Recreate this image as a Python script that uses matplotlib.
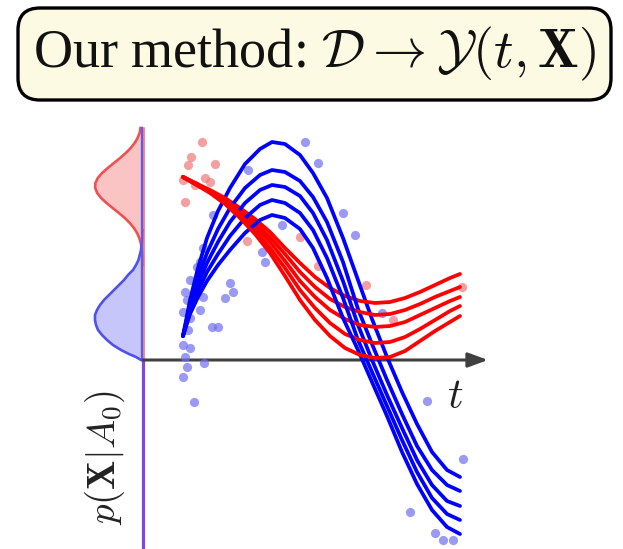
import matplotlib
matplotlib.use("Agg")
import matplotlib.pyplot as plt
from matplotlib.patches import FancyBboxPatch

plt.rcParams["font.family"] = ["Liberation Serif", "DejaVu Serif"]
plt.rcParams["mathtext.fontset"] = "cm"

# ------------------------------------------------------------
# DATA (t right of the origin, y above the t-axis)
# ------------------------------------------------------------
t_blue = [38, 45, 53, 62, 73, 85, 100, 115, 127, 140, 155, 168, 182, 198, 213,
          227, 242, 257, 272, 287, 302, 315]
blue_curves = [
    [24, 60, 92, 122, 149, 172, 196, 211, 218, 216, 205, 187, 162, 122, 80, 41, 3, -32, -64, -92, -110, -117],
    [24, 55, 83, 107, 131, 152, 172, 185, 190, 188, 179, 163, 138, 98, 51, 16, -20, -54, -86, -110, -125, -131],
    [24, 52, 76, 97, 118, 138, 157, 170, 175, 173, 164, 147, 120, 79, 35, 0, -35, -68, -100, -125, -141, -146],
    [24, 49, 69, 88, 106, 124, 142, 155, 160, 157, 147, 130, 102, 62, 20, -12, -46, -80, -112, -138, -154, -160],
    [24, 46, 63, 79, 95, 110, 127, 140, 145, 142, 131, 112, 82, 42, 10, -22, -56, -92, -124, -150, -167, -174],
]

t_red = [38, 50, 65, 80, 95, 110, 125, 140, 155, 170, 185, 200, 215, 230, 245,
         260, 275, 290, 305, 315]
red_curves = [
    [183, 177, 170, 162, 152, 141, 128, 112, 97, 83, 72, 64, 59, 57, 58, 62, 68, 75, 82, 86],
    [183, 177, 169, 160, 150, 137, 123, 106, 88, 73, 61, 53, 48, 45, 46, 50, 56, 63, 69, 73],
    [183, 177, 168, 159, 147, 134, 118, 99, 79, 63, 50, 41, 35, 33, 34, 38, 45, 52, 59, 63],
    [183, 176, 168, 157, 145, 130, 112, 92, 70, 52, 37, 26, 20, 17, 18, 23, 31, 40, 49, 54],
    [183, 176, 167, 156, 142, 126, 107, 84, 60, 40, 24, 12, 5, 2, 3, 9, 19, 29, 38, 44],
]

red_pts_t = [57, 46, 43, 70, 60, 38, 50, 40, 102, 155, 173, 221, 248, 317, 65]
red_pts_y = [218, 203, 195, 196, 182, 180, 175, 158, 119, 123, 94, 75, 40, 73, 178]

blue_pts_t = [58, 52, 45, 40, 42, 38, 45, 55, 58, 85, 88, 80, 67, 73, 43, 38, 45, 40,
              42, 38, 59, 49, 117, 120, 103, 68, 160, 173, 198, 210, 137, 237, 282,
              318, 265, 290, 298, 308, 55]
blue_pts_y = [112, 93, 80, 68, 60, 48, 42, 50, 63, 77, 68, 62, 33, 33, 30, 15, 12, 3,
              -7, -17, -3, -42, 108, 98, 190, 145, 218, 197, 147, 125, 135, 47, -41,
              -99, -152, -173, -180, -180, 98]

# marginal densities p(X|A0), drawn to the left of the axis
red_dens_y = [232, 227, 222, 217, 212, 207, 202, 197, 192, 187, 182, 177, 172, 167,
              162, 157, 152, 147, 142, 137, 132, 127, 122, 117, 112, 105, 95]
red_dens_w = [2.5, 3.4, 5.4, 8.4, 12.3, 17.2, 22.9, 29.1, 35.3, 40.9, 45.2, 47.6, 47.8,
              45.8, 41.9, 36.5, 30.4, 24.1, 18.2, 13.2, 9.1, 5.9, 3.7, 2.2, 1.3, 0.5, 0.1]
blue_dens_y = [130, 120, 110, 100, 95, 90, 85, 80, 75, 70, 65, 60, 55, 50, 45, 40, 35,
               30, 25, 20, 15, 10, 6, 3, 0]
blue_dens_w = [0.3, 0.8, 2, 4.5, 7, 10, 15, 19, 24, 29, 34, 39, 43, 46, 48, 48, 47,
               45, 41, 36, 30, 22, 14, 7, 2]

TITLE = r"Our method: $\mathcal{D} \rightarrow \mathcal{Y}(t, \mathbf{X})$"
YLABEL = r"$p(\mathbf{X}|A_0)$"

# ------------------------------------------------------------
# FIGURE
# ------------------------------------------------------------
fig = plt.figure(figsize=(6.23, 5.49), dpi=100)
ax = fig.add_axes([0, 0, 1, 1])
ax.set_xlim(-145, 478)
ax.set_ylim(-189, 360)
ax.axis("off")

BLUE, RED = "#0000ff", "#ff0000"
x0 = -2  # position of the vertical density axis

# title box
box = FancyBboxPatch((-127, 260), 593, 92, boxstyle="round,pad=0,rounding_size=22",
                     fc="#fdfae3", ec="black", lw=2.4, zorder=1)
ax.add_patch(box)
ax.text(170, 306, TITLE, ha="center", va="center", fontsize=39, color="#111111", zorder=2)

# densities
rx = [x0 - w for w in red_dens_w]
bx = [x0 - w for w in blue_dens_w]
ax.fill_betweenx(red_dens_y, rx, x0, color="#fbc4c4", lw=0, zorder=2)
ax.fill_betweenx(blue_dens_y, bx, x0, color="#c6c6fa", lw=0, zorder=2)
ax.plot(rx, red_dens_y, color="#f05050", lw=1.9, zorder=3)
ax.plot(bx, blue_dens_y, color="#5050f0", lw=1.9, zorder=3)

# vertical line (blue + red overlap -> purple below)
ax.plot([x0 - 1, x0 - 1], [0, 232], color="#5a5af5", lw=1.7, zorder=3)
ax.plot([x0 + 1, x0 + 1], [0, 232], color="#f06a6a", lw=1.1, zorder=3)
ax.plot([x0, x0], [-189, 0], color="#8048d8", lw=2.3, zorder=3)

# t axis
ax.annotate("", xy=(343, 0), xytext=(x0, 0),
            arrowprops=dict(arrowstyle="-|>,head_length=0.6,head_width=0.22",
                            color="#404040", lw=2.2, shrinkA=0, shrinkB=0,
                            mutation_scale=20), zorder=4)

# data points
ax.scatter(red_pts_t, red_pts_y, s=44, color="#f07878", alpha=0.7, lw=0, zorder=5)
ax.scatter(blue_pts_t, blue_pts_y, s=44, color="#7070f2", alpha=0.7, lw=0, zorder=5)

# fitted curves
for yb, yr in zip(blue_curves, red_curves):
    ax.plot(t_blue, yb, color=BLUE, lw=2.7, solid_capstyle="round", zorder=6)
    ax.plot(t_red, yr, color=RED, lw=2.7, solid_capstyle="round", zorder=6)

# labels
ax.text(310, -38, r"$t$", ha="center", va="center", fontsize=31, color="#222222")
ax.text(-40, -98, YLABEL, ha="center", va="center", rotation=90, fontsize=28,
        color="#222222")

fig.savefig("out.png", dpi=100)
